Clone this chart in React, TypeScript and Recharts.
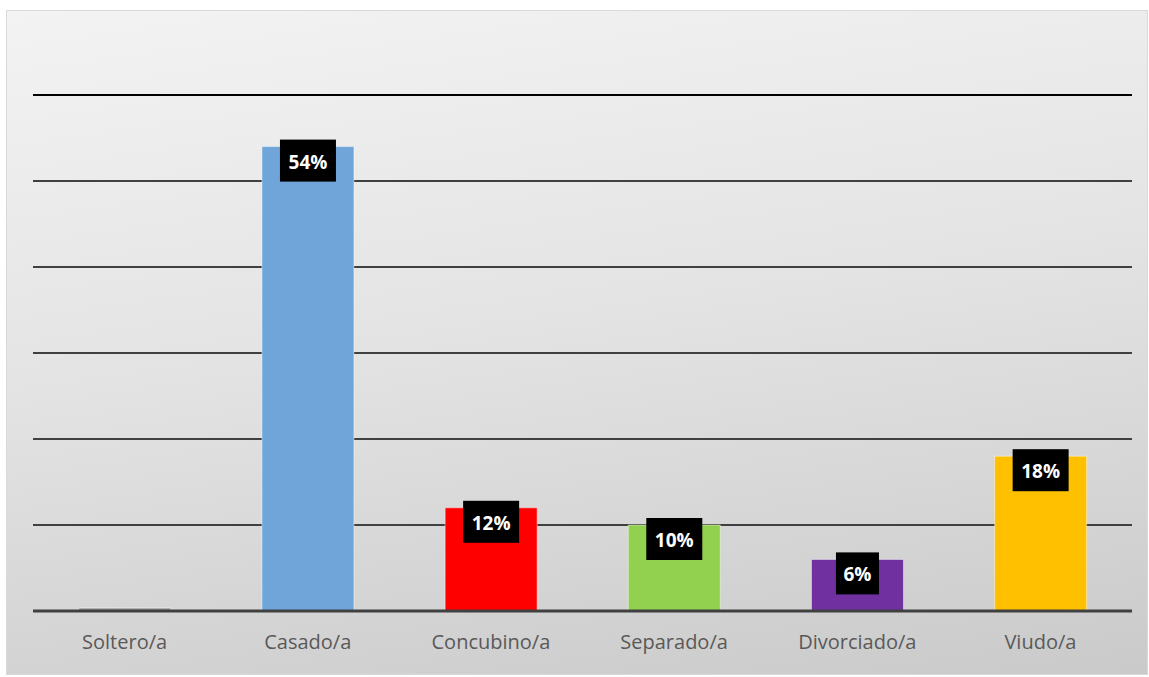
import { Bar, BarChart, CartesianGrid, Cell, LabelList, ReferenceLine, XAxis, YAxis } from 'recharts';

const categories = ['Soltero/a', 'Casado/a', 'Concubino/a', 'Separado/a', 'Divorciado/a', 'Viudo/a'];
const percentages = [0, 54, 12, 10, 6, 18];
const barColors = ['#9a9a9a', '#6fa5d8', '#ff0000', '#92d050', '#7030a0', '#ffc000'];
const yTicks = [0, 10, 20, 30, 40, 50, 60];

const data = categories.map((name, i) => ({ name, value: percentages[i] }));

const ValueLabel = (props: any) => {
  const { x, y, width, value } = props;
  if (!value) return null;
  const text = `${value}%`;
  const boxW = 13 * text.length + 17;
  const boxH = 42;
  const cx = x + width / 2;
  return (
    <g>
      <rect x={cx - boxW / 2} y={y - 7} width={boxW} height={boxH} fill={'#000000'} />
      <text
        x={cx}
        y={y + 15}
        textAnchor={'middle'}
        dominantBaseline={'central'}
        fill={'#ffffff'}
        fontFamily={'Open Sans, sans-serif'}
        fontWeight={700}
        fontSize={19}
      >
        {text}
      </text>
    </g>
  );
};

export default function App() {
  return (
    <div style={{ position: 'absolute', left: 0, top: 0, width: 1149, height: 677 }}>
      <div
        style={{
          position: 'absolute',
          left: 6,
          top: 10,
          width: 1140,
          height: 663,
          border: '1px solid #d9d9d9',
          background: 'linear-gradient(172deg, #f3f3f3 0%, #e4e4e4 45%, #cacaca 100%)',
        }}
      />
      <div style={{ position: 'absolute', left: 0, top: 0 }}>
        <BarChart
          width={1149}
          height={677}
          data={data}
          barCategoryGap={'25%'}
          margin={{ top: 95, right: 17, left: 33, bottom: 36 }}
        >
          <CartesianGrid vertical={false} stroke={'#404040'} strokeWidth={2} />
          <ReferenceLine y={60} stroke={'#000000'} strokeWidth={2} />
          <XAxis
            dataKey={'name'}
            axisLine={{ stroke: '#404040', strokeWidth: 3 }}
            tickLine={false}
            tickMargin={18}
            height={30}
            tick={{ fontSize: 20, fill: '#595959', fontFamily: 'Open Sans, sans-serif' }}
          />
          <YAxis hide domain={[0, 60]} ticks={yTicks} />
          <Bar dataKey={'value'} isAnimationActive={false} minPointSize={3} stroke={'rgba(255,255,255,0.45)'} strokeWidth={1}>
            {data.map((_, i) => (
              <Cell key={categories[i]} fill={barColors[i]} />
            ))}
            <LabelList dataKey={'value'} content={<ValueLabel />} />
          </Bar>
        </BarChart>
      </div>
    </div>
  );
}
